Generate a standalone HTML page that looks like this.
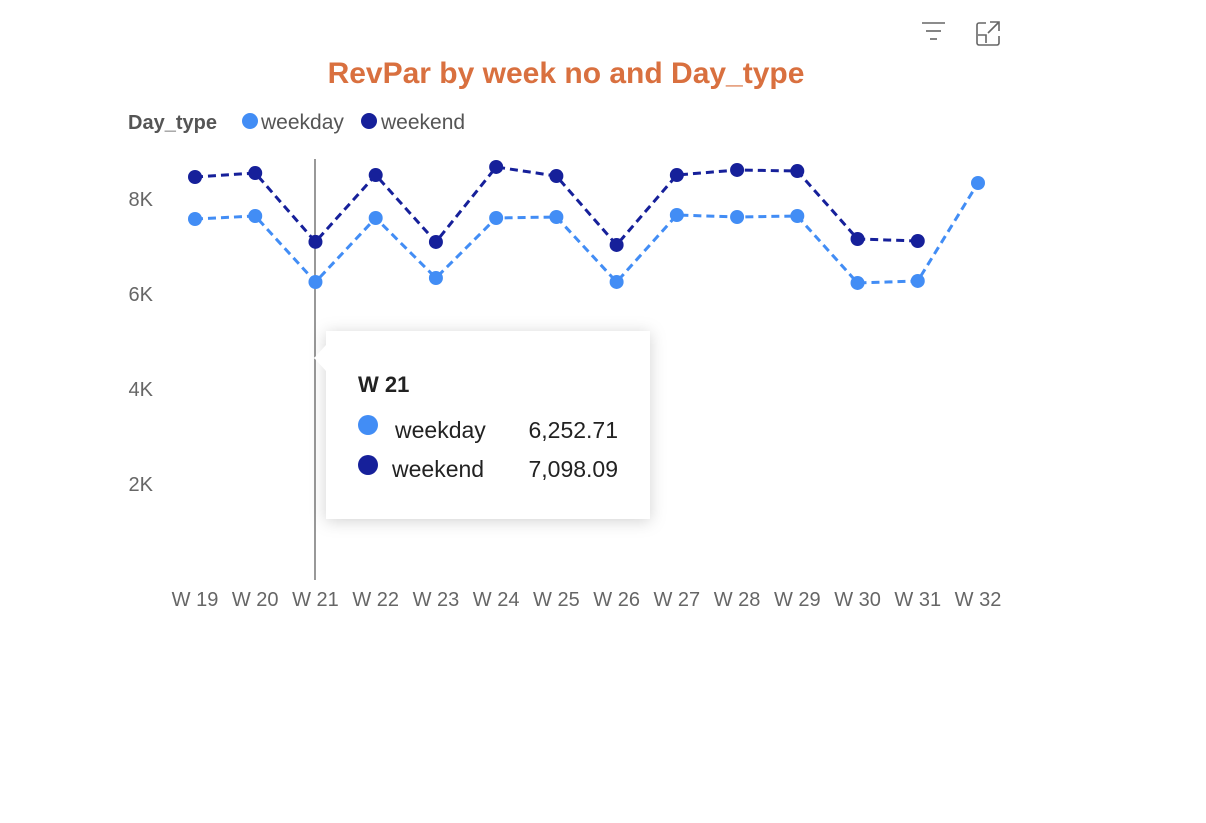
<!DOCTYPE html>
<html><head><meta charset="utf-8"><style>
body{margin:0;background:#fff;width:1206px;height:818px;overflow:hidden;font-family:"Liberation Sans","DejaVu Sans",sans-serif;}
svg text{font-family:"Liberation Sans","DejaVu Sans",sans-serif;}
</style></head><body>
<svg id="chart" width="1206" height="818">
  <g stroke="#666" stroke-width="1.6" fill="none">
    <line x1="922" y1="23" x2="945" y2="23"/><line x1="926" y1="31" x2="941" y2="31"/><line x1="930" y1="39" x2="937" y2="39"/>
  </g>
  <g stroke="#666" stroke-width="1.6" fill="none">
    <path d="M986 23 h-7 a2 2 0 0 0 -2 2 v18 a2 2 0 0 0 2 2 h18 a2 2 0 0 0 2 -2 v-7"/>
    <path d="M990 22 h9 v9 M999 22 l-11 11"/><path d="M978 35 h8 v8" />
  </g>
  <text x="566" y="83" text-anchor="middle" font-size="30" font-weight="bold" fill="#D9703F">RevPar by week no and Day_type</text>
  <g>
    <text x="128" y="129" font-size="20" font-weight="bold" fill="#555">Day_type</text>
    <g><circle cx="250" cy="121" r="8" fill="#428DF5"/><text x="261" y="129" font-size="21" fill="#555">weekday</text></g>
    <g><circle cx="369" cy="121" r="8" fill="#16209A"/><text x="381" y="129" font-size="21" fill="#555">weekend</text></g>
  </g>
  <g id="yaxis"></g>
  <g id="xaxis"></g>
  <line x1="315" y1="159" x2="315" y2="580" stroke="#555" stroke-width="1.2"/>
  <g id="series"></g>
  <g>
    <rect x="326" y="331" width="324" height="188" fill="#fff" style="filter:drop-shadow(0 2px 8px rgba(0,0,0,0.18))"/>
    <polygon points="326,345 314,358 326,371" fill="#fff"/>
    <text x="358" y="392" font-size="22" font-weight="bold" fill="#222">W 21</text>
    <circle cx="368" cy="425" r="10" fill="#428DF5"/>
    <text x="395" y="438" font-size="23" fill="#222">weekday</text>
    <text x="618" y="438" font-size="23" fill="#222" text-anchor="end">6,252.71</text>
    <circle cx="368" cy="465" r="10" fill="#16209A"/>
    <text x="392" y="477" font-size="23" fill="#222">weekend</text>
    <text x="618" y="477" font-size="23" fill="#222" text-anchor="end">7,098.09</text>
  </g>
</svg>
<script>
const weeks = ["W 19","W 20","W 21","W 22","W 23","W 24","W 25","W 26","W 27","W 28","W 29","W 30","W 31","W 32"];
const weekday = [7579,7642,6252.71,7600,6337,7600,7621,6253,7663,7621,7642,6232,6274,8337];
const weekend = [8463,8547,7098.09,8505,7095,8674,8484,7032,8505,8611,8589,7158,7116,null];
const yTicks = [2000,4000,6000,8000];
const yTickLabels = ["2K","4K","6K","8K"];
const NS="http://www.w3.org/2000/svg";
const xS = i => 195 + i*(978-195)/(weeks.length-1);
const yS = v => 579 - v*0.0475;
function mk(t,a,p){const e=document.createElementNS(NS,t);for(const k in a)e.setAttribute(k,a[k]);p.appendChild(e);return e;}
const ya=document.getElementById('yaxis');
yTicks.forEach((v,i)=>{const t=mk('text',{x:153,y:yS(v)+7,'text-anchor':'end','font-size':20,fill:'#666'},ya);t.textContent=yTickLabels[i];

});
const xa=document.getElementById('xaxis');
weeks.forEach((w,i)=>{const t=mk('text',{x:xS(i),y:606,'text-anchor':'middle','font-size':20,fill:'#666'},xa);t.textContent=w;

});
const sg=document.getElementById('series');
function series(vals,color,name){
  const g=mk('g',{},sg);
  
  
  let d='';vals.forEach((v,i)=>{if(v==null)return;d+=(d?'L':'M')+xS(i)+' '+yS(v);});
  mk('path',{d:d,fill:'none',stroke:color,'stroke-width':3,'stroke-dasharray':'8 5'},g);
  vals.forEach((v,i)=>{if(v==null)return;const c=mk('circle',{cx:xS(i),cy:yS(v),r:7,fill:color},g);
  
  });
}
series(weekday,'#428DF5','weekday');
series(weekend,'#16209A','weekend');
</script>
</body></html>
